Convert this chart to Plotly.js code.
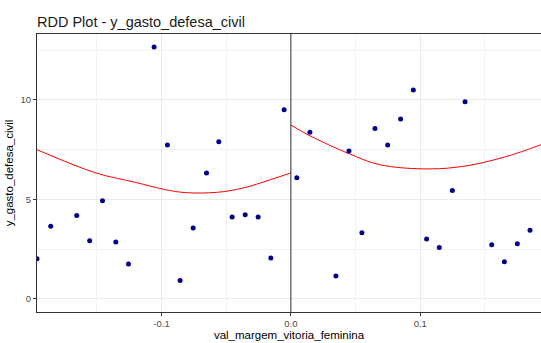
<!DOCTYPE html>
<html><head><meta charset="utf-8">
<script src="https://cdn.plot.ly/plotly-3.0.1.min.js"></script>
<style>html,body{margin:0;padding:0;background:#fff}#chart{width:541px;height:343px}</style>
</head><body><div id="chart"></div>
<script>
const pointsX = [-0.1962,-0.1856,-0.1655,-0.1555,-0.1456,-0.1353,-0.1255,-0.1057,-0.0954,-0.0856,-0.0755,-0.0652,-0.0557,-0.0454,-0.0353,-0.0253,-0.0155,-0.0052,
  0.0046,0.0147,0.0348,0.0449,0.0549,0.065,0.0748,0.0848,0.0946,0.1049,0.1147,0.1248,0.1346,0.1552,0.165,0.175,0.1848];
const pointsY = [2.01,3.64,4.19,2.92,4.93,2.85,1.75,12.67,7.74,0.92,3.56,6.33,7.90,4.11,4.23,4.11,2.05,9.51,
  6.09,8.37,1.14,7.43,3.32,8.57,7.74,9.04,10.50,3.00,2.57,5.45,9.91,2.72,1.86,2.77,3.44];
const fitLeftX = [-0.1962,-0.1508,-0.1199,-0.098,-0.082,-0.0575,-0.0369,-0.0162,0];
const fitLeftY = [7.50,6.33,5.85,5.50,5.34,5.35,5.57,5.98,6.33];
const fitRightX = [0,0.0147,0.0449,0.0688,0.1075,0.136,0.1668,0.1933];
const fitRightY = [8.74,8.20,7.30,6.74,6.53,6.69,7.16,7.75];
const xTickVals = [-0.1,0,0.1];
const xTickText = ["-0.1","0.0","0.1"];
const yTickVals = [0,5,10];
const yTickText = ["0","5","10"];

const font = {family:"Liberation Sans, Arial, sans-serif"};
const traces = [
  {x:fitLeftX,y:fitLeftY,mode:"lines",line:{color:"#FF0000",width:1,shape:"spline",smoothing:1},hoverinfo:"skip"},
  {x:fitRightX,y:fitRightY,mode:"lines",line:{color:"#FF0000",width:1,shape:"spline",smoothing:1},hoverinfo:"skip"},
  {x:pointsX,y:pointsY,mode:"markers",marker:{color:"#00008B",size:5}}
];
const axisCommon = {
  showline:true, linecolor:"#333333", linewidth:1, mirror:true,
  ticks:"outside", ticklen:3, tickcolor:"#333333", tickwidth:1,
  showgrid:true, gridcolor:"#EBEBEB", gridwidth:1, zeroline:false,
  tickfont:{family:font.family,size:9.5,color:"#4D4D4D"}
};
const layout = {
  width:541,height:343,
  margin:{l:37,r:0,t:34,b:31},
  paper_bgcolor:"#FFFFFF",plot_bgcolor:"#FFFFFF",
  showlegend:false,
  title:{text:"RDD Plot - y_gasto_defesa_civil",x:0,xref:"paper",xanchor:"left",y:0.935,yanchor:"middle",
    font:{family:font.family,size:14.5,color:"#1A1A1A"},pad:{l:0}},
  xaxis:Object.assign({},axisCommon,{range:[-0.1962,0.1933],tickvals:xTickVals,ticktext:xTickText,
    minor:{dtick:0.05,tick0:-0.15,showgrid:true,gridcolor:"#F2F2F2",gridwidth:1,ticks:""},
    title:{text:"val_margem_vitoria_feminina",font:{family:font.family,size:11.5,color:"#000000"},standoff:2}}),
  yaxis:Object.assign({},axisCommon,{range:[-0.67,13.32],tickvals:yTickVals,ticktext:yTickText,
    minor:{dtick:2.5,tick0:2.5,showgrid:true,gridcolor:"#F2F2F2",gridwidth:1,ticks:""},
    title:{text:"y_gasto_defesa_civil",font:{family:font.family,size:11.5,color:"#000000"},standoff:4}}),
  shapes:[{type:"line",xref:"x",yref:"paper",x0:0,x1:0,y0:0,y1:1,line:{color:"#333333",width:1}}]
};
Plotly.newPlot("chart",traces,layout,{displayModeBar:false,staticPlot:true});
</script></body></html>
